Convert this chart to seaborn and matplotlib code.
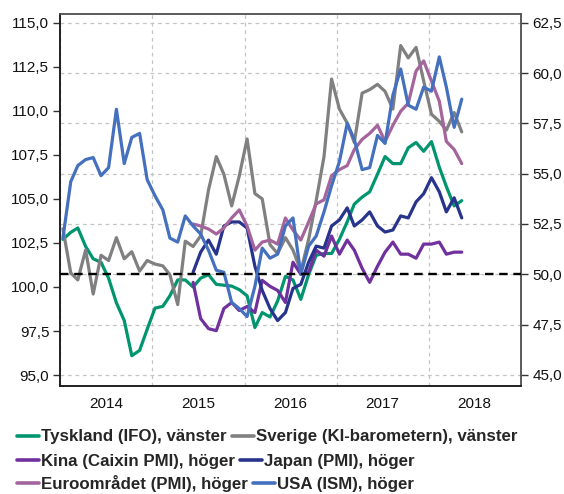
import numpy as np
import pandas as pd
import matplotlib
matplotlib.use("Agg")
import matplotlib.pyplot as plt
import matplotlib.dates as mdates
from matplotlib.lines import Line2D
from matplotlib.ticker import FuncFormatter, MultipleLocator
import seaborn as sns

# Månadsdata jan 2014 - maj 2018
months = pd.date_range("2014-01-01", periods=53, freq="MS") + pd.Timedelta(days=10)

# vänster axel
tyskland = [102.7, 103.1, 103.35, 102.3, 101.6, 101.4, 100.5, 99.1, 98.1, 96.1, 96.4, 97.6,
            98.8, 98.9, 99.5, 100.4, 100.4, 100.0, 100.5, 100.7, 100.15, 100.1, 100.05, 99.85,
            99.5, 97.7, 98.55, 98.3, 99.2, 100.6, 100.4, 99.3, 100.7, 101.8, 101.9, 101.9,
            102.7, 103.7, 104.7, 105.1, 105.4, 106.4, 107.4, 107.0, 107.0, 107.9, 108.2, 107.7,
            108.25, 106.8, 105.7, 104.6, 104.9]
sverige = [103.3, 100.8, 100.4, 102.1, 99.6, 101.8, 101.5, 102.8, 101.6, 102.0, 100.9, 101.5,
           101.3, 101.2, 100.7, 99.0, 102.6, 102.3, 102.9, 105.5, 107.4, 106.4, 104.6, 106.3,
           108.4, 105.3, 105.0, 102.4, 101.9, 102.8, 102.1, 100.9, 102.7, 104.9, 107.4, 111.8,
           110.1, 109.3, 108.2, 111.0, 111.2, 111.5, 111.1, 110.1, 113.7, 113.0, 113.6, 111.7,
           109.8, 109.4, 108.9, 109.9, 108.8]

# höger axel (Kina, Japan, Euro börjar juni 2015)
kina = [np.nan] * 17 + [49.6, 47.8, 47.3, 47.2, 48.3, 48.6, 48.2,
                        48.4, 48.1, 49.7, 49.4, 49.2, 48.6, 50.6, 50.0, 50.1, 51.2, 50.9, 51.9,
                        51.0, 51.7, 51.2, 50.3, 49.6, 50.4, 51.1, 51.6, 51.0, 51.0, 50.8, 51.5,
                        51.5, 51.6, 51.0, 51.1, 51.1]
japan = [np.nan] * 17 + [50.1, 51.1, 51.7, 51.0, 52.4, 52.6, 52.6,
                         52.3, 50.4, 49.2, 48.3, 47.7, 48.1, 49.3, 49.5, 50.6, 51.4, 51.3, 52.4,
                         52.7, 53.3, 52.4, 52.7, 53.1, 52.4, 52.1, 52.2, 52.9, 52.8, 53.6, 54.0,
                         54.8, 54.1, 53.1, 53.8, 52.8]
euro = [np.nan] * 17 + [52.5, 52.4, 52.25, 52.0, 52.3, 52.8, 53.2,
                        52.4, 51.2, 51.6, 51.7, 51.5, 52.8, 52.2, 51.7, 52.6, 53.5, 53.7, 54.9,
                        55.2, 55.4, 56.2, 56.7, 57.0, 57.4, 56.6, 57.4, 58.1, 58.5, 60.1, 60.6,
                        59.6, 58.6, 56.6, 56.2, 55.5]
usa = [51.8, 54.6, 55.4, 55.7, 55.8, 54.9, 55.3, 58.2, 55.5, 56.8, 57.0, 54.7,
       53.9, 53.2, 51.8, 51.6, 52.9, 52.4, 52.0, 51.2, 50.2, 50.1, 48.6, 48.3,
       47.9, 49.4, 51.3, 50.8, 51.0, 52.4, 52.8, 50.0, 51.4, 51.9, 53.1, 54.4,
       55.6, 57.5, 56.7, 55.2, 55.3, 56.9, 56.5, 58.9, 60.2, 58.4, 58.2, 59.3,
       59.1, 60.8, 59.3, 57.3, 58.7]

left_names = ["Tyskland (IFO), vänster", "Sverige (KI-barometern), vänster"]
right_names = ["Kina (Caixin PMI), höger", "Japan (PMI), höger",
               "Euroområdet (PMI), höger", "USA (ISM), höger"]
colors = {
    left_names[0]: "#00956F",
    left_names[1]: "#808080",
    right_names[0]: "#70309E",
    right_names[1]: "#28348C",
    right_names[2]: "#A4649C",
    right_names[3]: "#4470BE",
}

left_df = pd.DataFrame({"month": months, left_names[0]: tyskland, left_names[1]: sverige})
left_df = left_df.melt(id_vars="month", var_name="serie", value_name="value")
right_df = pd.DataFrame({"month": months, right_names[0]: kina, right_names[1]: japan,
                         right_names[2]: euro, right_names[3]: usa})
right_df = right_df.melt(id_vars="month", var_name="serie", value_name="value").dropna()

sns.set_style("white")
plt.rcParams["font.family"] = ["Liberation Sans", "DejaVu Sans"]

fig = plt.figure(figsize=(5.64, 4.94), dpi=100)
ax = fig.add_axes([0.1071, 0.2186, 0.8167, 0.7530])
ax2 = ax.twinx()

lw = 2.3
sns.lineplot(data=left_df, x="month", y="value", hue="serie", hue_order=left_names,
             palette=colors, linewidth=lw, ax=ax, legend=False, zorder=3)
sns.lineplot(data=right_df, x="month", y="value", hue="serie", hue_order=right_names,
             palette=colors, linewidth=lw, ax=ax2, legend=False, zorder=3)
ax2.axhline(50, color="black", lw=1.7, ls=(0, (3.6, 2.4)), zorder=5)

# axlar
ax.set_ylim(94.38, 115.49)
ax2.set_ylim(44.45, 62.93)
ax.set_xlim(pd.Timestamp("2014-01-01"), pd.Timestamp("2019-01-01"))
ax.yaxis.set_major_locator(MultipleLocator(2.5))
ax2.yaxis.set_major_locator(MultipleLocator(2.5))
fmt = FuncFormatter(lambda v, p: f"{v:.1f}".replace(".", ","))
ax.yaxis.set_major_formatter(fmt)
ax2.yaxis.set_major_formatter(fmt)

ax.xaxis.set_major_locator(mdates.YearLocator())
ax.xaxis.set_major_formatter(plt.NullFormatter())
ax.xaxis.set_minor_locator(mdates.MonthLocator(bymonth=7, bymonthday=1))
ax.xaxis.set_minor_formatter(mdates.DateFormatter("%Y"))
ax.tick_params(axis="x", which="major", direction="out", length=5, width=1, color="#333333")
ax.tick_params(axis="x", which="minor", length=0, pad=8, labelsize=11, labelcolor="#111111")
ax.tick_params(axis="y", direction="out", length=5, width=1, pad=3, labelsize=11,
               color="#333333", labelcolor="#111111")
ax2.tick_params(axis="y", direction="out", length=5, width=1, pad=3, labelsize=11,
                color="#333333", labelcolor="#111111")
ax.set_xlabel("")
ax.set_ylabel("")
ax2.set_ylabel("")

# rutnät (horisontellt efter högeraxelns steg)
ax.grid(axis="x", which="major", color="#C4C4C4", lw=0.9, ls=(0, (3, 3)), zorder=0)
for r in np.arange(45, 62.6, 2.5):
    ax.axhline(95 + (r - 45) * 20 / 17.5, color="#C4C4C4", lw=0.9, ls=(0, (3, 3)), zorder=0)

for a in (ax, ax2):
    for s in ("left", "bottom"):
        a.spines[s].set_color("#1a1a1a")
    for s in ("top", "right"):
        a.spines[s].set_color("#555555")
    for s in a.spines.values():
        s.set_linewidth(1.1)

# legend i tre rader
rows = [left_names, right_names[:2], right_names[2:]]
ys = [0.1154, 0.0668, 0.0205]
for names, y in zip(rows, ys):
    handles = [Line2D([], [], color=colors[n], lw=2.6) for n in names]
    leg = fig.legend(handles, names, loc="center left", bbox_to_anchor=(0.03, y), ncol=2,
                     frameon=False, handlelength=1.3, handletextpad=0.12, columnspacing=0.3,
                     borderpad=0, borderaxespad=0, prop={"weight": "bold", "size": 12.2})

fig.savefig("out.png", dpi=100)
